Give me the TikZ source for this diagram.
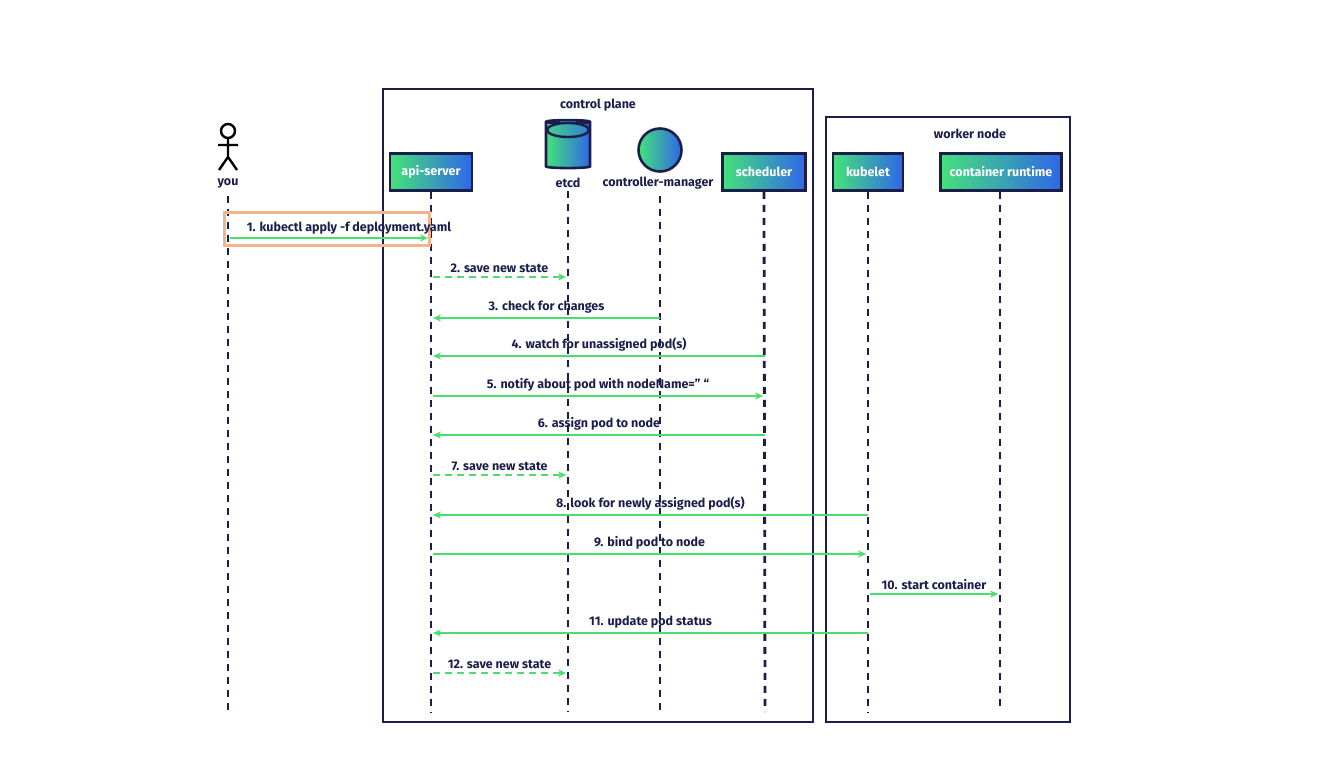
\documentclass[tikz,border=0pt]{standalone}
\usepackage{fontspec}
\setmainfont{Fira Sans}
\usetikzlibrary{shapes.geometric,arrows.meta}
\definecolor{navy}{HTML}{1B1E4B}
\definecolor{grn}{HTML}{45E27A}
\definecolor{blu}{HTML}{2F66E8}
\definecolor{arr}{HTML}{4ADE6E}
\definecolor{org}{HTML}{F2B48A}
\begin{document}
\begin{tikzpicture}[x=1pt,y=-1pt,font=\bfseries\fontsize{12.5}{14}\selectfont,
  part/.style={draw=navy,line width=2.6pt,left color=grn,right color=blu,text=white,minimum height=37pt,inner sep=0pt},
  life/.style={navy,line width=2.8pt,dash pattern=on 7pt off 6pt},
  lbl/.style={text=navy,font=\bfseries\fontsize{12.5}{14}\selectfont},
  msg/.style={arr,line width=2.2pt,-{Stealth[length=8pt,width=7pt]}},
  ret/.style={msg,dash pattern=on 7pt off 5pt},
  frame/.style={draw=navy,line width=2.4pt}]
\useasboundingbox (0,0) rectangle (1320,757);
\draw[frame] (383,89) rectangle (813,722);
\draw[frame] (826,117) rectangle (1070,722);
\node[lbl] (cp) at (598,105) {control plane};
\node[lbl] (wn) at (970,134) {worker node};
% participants
\node[part,minimum width=82pt] (api) at (431,172) {api-server};
\node[part,minimum width=83pt] (sch) at (764,172) {scheduler};
\node[part,minimum width=70pt] (kub) at (868,172) {kubelet};
\node[part,minimum width=121pt] (crt) at (1001,172) {container runtime};
\node[cylinder,shape border rotate=90,aspect=0.5,draw=navy,line width=2.6pt,left color=grn,right color=blu,minimum width=44pt,minimum height=48pt] (etcdc) at (568,146) {};
\draw[navy,line width=2.4pt,left color=grn!85!blu,right color=blu!80!grn] (568,130) ellipse (21pt and 7pt);
\node[lbl] (etcd) at (568,183) {etcd};
\node[circle,draw=navy,line width=2.6pt,left color=grn,right color=blu,minimum size=43pt] (cmc) at (660,150) {};
\node[lbl] (cm) at (658,183) {controller-manager};
% stick figure
\draw[black,line width=2.4pt] (228,131) circle (7);
\draw[black,line width=2.4pt] (228,138)--(228,157) (218,145)--(238,145) (219,170)--(228,157)--(237,170);
\node[lbl] (you) at (228,183) {you};
% lifelines
\coordinate (youE) at (228,712); \coordinate (apiE) at (431,712); \coordinate (etcdE) at (568,712);
\coordinate (cmE) at (660,712); \coordinate (schE) at (765,712); \coordinate (kubE) at (868,712); \coordinate (crtE) at (1000,712);
\draw[life] (228,196)--(youE);
\draw[life] (api.south)--(apiE);
\draw[life] (etcd.south)--(etcdE);
\draw[life] (660,196)--(cmE);
\draw[life] (sch.south)--(schE);
\draw[life] (kub.south)--(kubE);
\draw[life] (1000,192)--(crtE);
% highlight
\node[draw=org,line width=3.5pt,minimum width=205pt,minimum height=33pt,inner sep=0pt] (hl) at (327,229) {};
\newcommand{\msgto}[6]{%
 \coordinate (a#6) at (#1,#3); \coordinate (b#6) at (#2,#3);
 \draw[#5] (a#6) -- node[lbl,above=0pt] {#4} (b#6);}
\coordinate (a1) at (230,238); \coordinate (b1) at (428,238);
\draw[msg] (a1) -- (b1);
\node[lbl] (l1) at (349,228) {1. kubectl apply -f deployment.yaml};
\msgto{433}{566}{277}{2. save new state}{ret}{2}
\msgto{660}{433}{318}{3. check for changes}{msg}{3}
\msgto{765}{433}{356}{4. watch for unassigned pod(s)}{msg}{4}
\msgto{433}{763}{396}{5. notify about pod with nodeName=” “}{msg}{5}
\msgto{765}{433}{435}{6. assign pod to node}{msg}{6}
\msgto{433}{566}{475}{7. save new state}{ret}{7}
\msgto{868}{433}{515}{8. look for newly assigned pod(s)}{msg}{8}
\msgto{433}{866}{554}{9. bind pod to node}{msg}{9}
\msgto{870}{998}{594}{10. start container}{msg}{10}
\msgto{868}{433}{633}{11. update pod status}{msg}{11}
\msgto{433}{566}{673}{12. save new state}{ret}{12}
\end{tikzpicture}
\end{document}
